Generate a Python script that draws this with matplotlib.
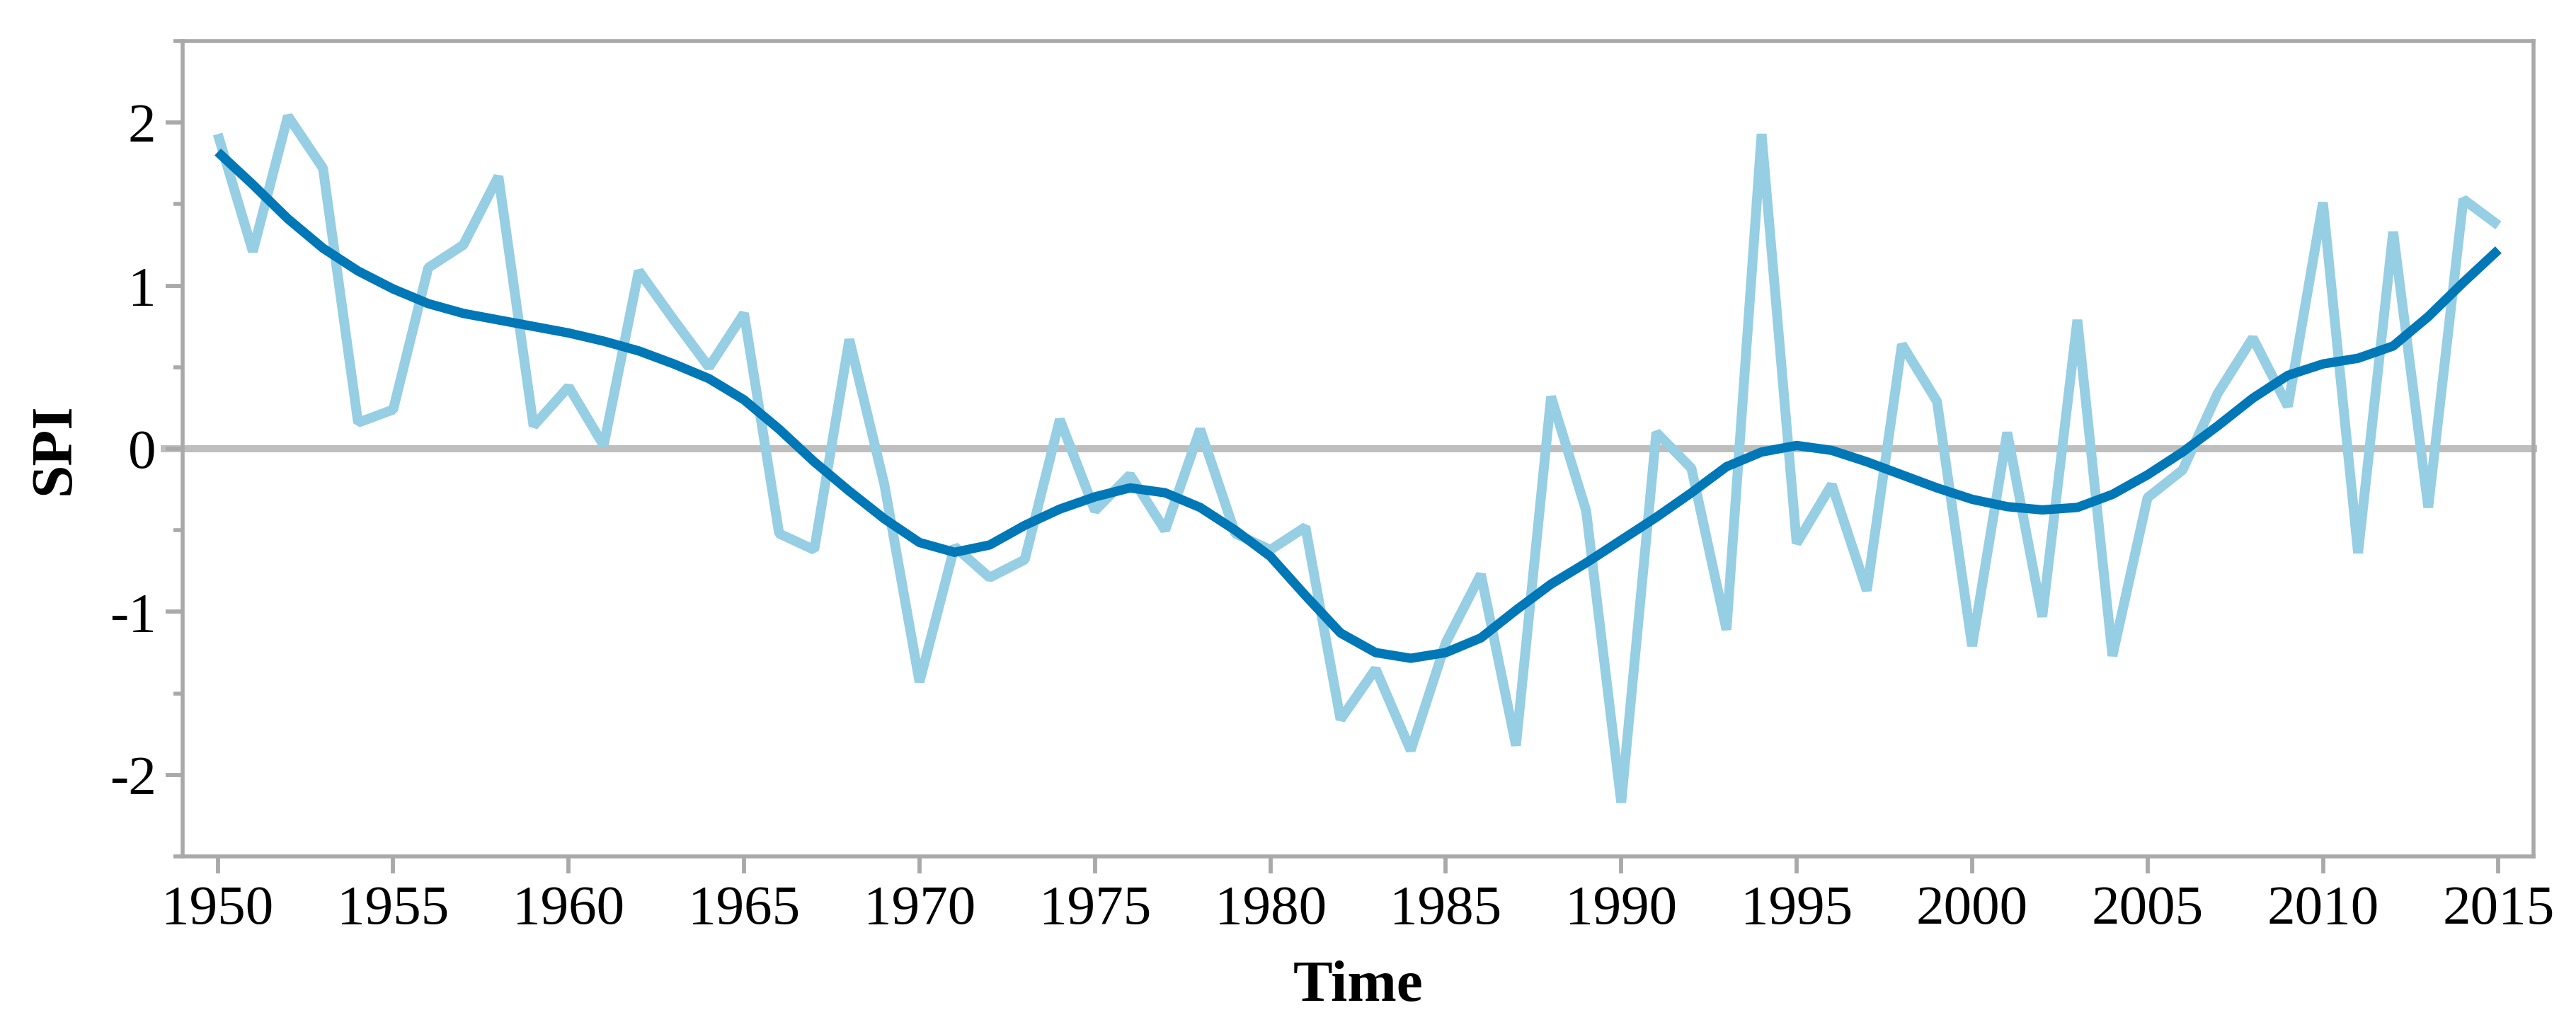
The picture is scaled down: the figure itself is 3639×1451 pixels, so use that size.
import numpy as np
import matplotlib
matplotlib.use('Agg')
import matplotlib.pyplot as plt
from matplotlib.ticker import MultipleLocator

## years and SPI values
years = list(range(1950, 2016))

spi = [1.93, 1.21, 2.04, 1.72, 0.16, 0.24, 1.11, 1.25, 1.67, 0.14,
       0.38, 0.02, 1.09, 0.79, 0.50, 0.83, -0.52, -0.62, 0.67, -0.22,
       -1.43, -0.60, -0.79, -0.68, 0.18, -0.38, -0.16, -0.50, 0.12, -0.52,
       -0.62, -0.48, -1.66, -1.35, -1.85, -1.19, -0.77, -1.82, 0.32, -0.38,
       -2.17, 0.10, -0.12, -1.11, 1.93, -0.58, -0.22, -0.87, 0.64, 0.29,
       -1.21, 0.10, -1.03, 0.79, -1.27, -0.30, -0.13, 0.34, 0.68, 0.26,
       1.51, -0.64, 1.33, -0.36, 1.53, 1.37]

## smoothed trend
spi_trend = [1.82, 1.62, 1.41, 1.23, 1.09, 0.98, 0.89, 0.83, 0.79, 0.75,
             0.71, 0.66, 0.60, 0.52, 0.43, 0.30, 0.12, -0.08, -0.26, -0.43,
             -0.575, -0.635, -0.59, -0.47, -0.37, -0.295, -0.24, -0.27, -0.36, -0.50,
             -0.66, -0.90, -1.13, -1.25, -1.285, -1.25, -1.16, -0.99, -0.83, -0.70,
             -0.56, -0.42, -0.27, -0.11, -0.02, 0.02, -0.01, -0.08, -0.16, -0.24,
             -0.31, -0.355, -0.375, -0.36, -0.28, -0.16, -0.02, 0.14, 0.31, 0.45,
             0.52, 0.555, 0.63, 0.81, 1.02, 1.22]

x_ticks = list(range(1950, 2016, 5))
y_ticks = [-2, -1, 0, 1, 2]

light_blue = '#96cee4'
dark_blue = '#0077b6'
axis_grey = '#a9a9a9'
zero_grey = '#bebebe'

plt.rcParams['font.family'] = ['Liberation Serif', 'DejaVu Serif']
plt.rcParams['axes.unicode_minus'] = False

fig = plt.figure(figsize=(36.39, 14.51), dpi=100)
ax = fig.add_axes([0.0709, 0.1661, 0.9126, 0.7939])

ax.axhline(0, xmin=-0.0078, xmax=1, color=zero_grey, lw=7.2, zorder=1, clip_on=False)
ax.plot(years, spi, color=light_blue, lw=10, zorder=2,
        solid_capstyle='butt', solid_joinstyle='bevel')
ax.plot(years, spi_trend, color=dark_blue, lw=9.5, zorder=3,
        solid_capstyle='butt', solid_joinstyle='round')

ax.set_xlim(1949, 2016)
ax.set_ylim(-2.5, 2.5)
ax.set_xticks(x_ticks)
ax.set_yticks(y_ticks)
ax.yaxis.set_minor_locator(MultipleLocator(0.5))

for s in ax.spines.values():
    s.set_color(axis_grey)
    s.set_linewidth(4)

ax.tick_params(axis='both', which='major', color=axis_grey, width=4.2, length=17,
               labelsize=57)
ax.tick_params(axis='x', which='major', pad=12)
ax.tick_params(axis='y', which='major', pad=10)
ax.tick_params(axis='y', which='minor', color=axis_grey, width=4, length=9.5)

ax.set_xlabel('Time', fontsize=60, fontweight='bold')
ax.set_ylabel('SPI', fontsize=60, fontweight='bold')
ax.xaxis.set_label_coords(0.5, -0.128)
ax.yaxis.set_label_coords(-0.043, 0.5)

fig.savefig('out.png', dpi=100)
